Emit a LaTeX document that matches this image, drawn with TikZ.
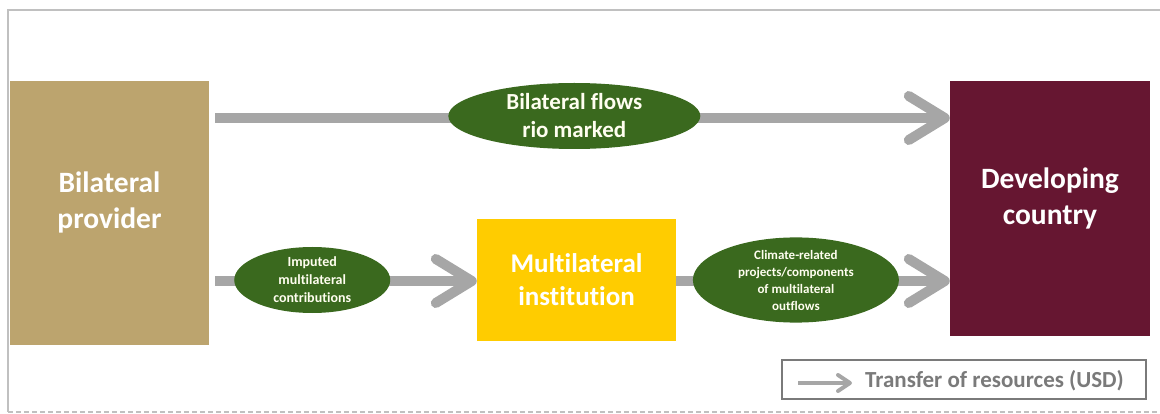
\documentclass[tikz,border=0pt]{standalone}
\usepackage{fontspec}
\setmainfont{Carlito}[Ligatures=NoCommon]
\definecolor{provtan}{RGB}{188,164,110}
\definecolor{devred}{RGB}{102,22,49}
\definecolor{multiyel}{RGB}{255,204,0}
\definecolor{flowgreen}{RGB}{58,105,30}
\definecolor{flowgray}{RGB}{166,166,166}
\definecolor{framegray}{RGB}{192,192,192}
\definecolor{leggray}{RGB}{122,122,122}
\usetikzlibrary{arrows.meta,shapes.geometric}

\begin{document}
\begin{tikzpicture}[x=1pt, y=-1pt,
  actor/.style={rectangle, fill=#1, inner sep=0pt},
  actortxt/.style={text=white, align=center, inner sep=0pt,
                   font=\fontsize{29.5}{36}\selectfont\bfseries},
  flowlbl/.style={ellipse, fill=flowgreen, inner sep=0pt, text=white!94!yellow,
                  align=center},
  flow/.style={draw=flowgray, line width=10pt,
               -{Straight Barb[round, length=36pt, width=44pt]}},
  frame/.style={draw=framegray, line width=2pt}
]
\useasboundingbox (0,0) rectangle (1160,414);

% Frame
\draw[frame] (1160,10) -- (8,10) -- (8,412);
\draw[frame, dash pattern=on 5pt off 3pt] (8,412) -- (1160,412);

% Actors
\node[actor=provtan,  minimum width=199pt, minimum height=264pt] (prov)  at (109.5,213) {};
\node[actor=devred,   minimum width=200pt, minimum height=255pt] (dev)   at (1050,208.5) {};
\node[actor=multiyel, minimum width=199pt, minimum height=122pt] (multi) at (576.5,280) {};
\node[actortxt] (provtxt) at ([yshift=11pt]prov.center) {Bilateral\\provider};
\node[actortxt] (devtxt)  at ([yshift=10pt]dev.center) {Developing\\country};
\node[actortxt, font=\fontsize{27}{33}\selectfont\bfseries] (multitxt) at (multi.center) {Multilateral\\institution};

% Flow levels
\coordinate (top) at (0,118);
\coordinate (low) at (0,281);

% Flows
\draw[flow, shorten <=6pt] (prov.east |- top) -- node[flowlbl, pos=0.493, yshift=2pt, minimum width=252pt, minimum height=66pt,
      font=\fontsize{23}{28}\selectfont\bfseries] (bilat) {Bilateral flows\\rio marked} (dev.west |- top);
\draw[flow, shorten <=6pt] (prov.east |- low) -- node[flowlbl, pos=0.385, yshift=1pt, minimum width=156pt, minimum height=66pt,
      font=\fontsize{14}{18}\selectfont\bfseries] (imput) {Imputed\\multilateral\\contributions} (multi.west |- low);
\draw[flow] (multi.east |- low) -- node[flowlbl, pos=0.4375, yshift=1pt, minimum width=206pt, minimum height=70pt,
      font=\fontsize{13}{17}\selectfont\bfseries] (clim) {Climate-related\\projects/components\\of multilateral\\outflows} (dev.west |- low);

% Legend
\node[draw=leggray, line width=2.5pt, minimum width=364pt, minimum height=39pt] (leg) at (964,379.5) {};
\node[anchor=west, text=leggray, inner sep=0pt, font=\fontsize{23}{26}\selectfont\bfseries] (legtxt) at (865,381) {Transfer of resources (USD)};
\coordinate (legstart) at (798,383);
\draw[draw=flowgray, line width=4pt, -{Straight Barb[round, length=12pt, width=16pt]}, shorten >=13pt] (legstart) -- (legtxt.west |- legstart);
\end{tikzpicture}
\end{document}
